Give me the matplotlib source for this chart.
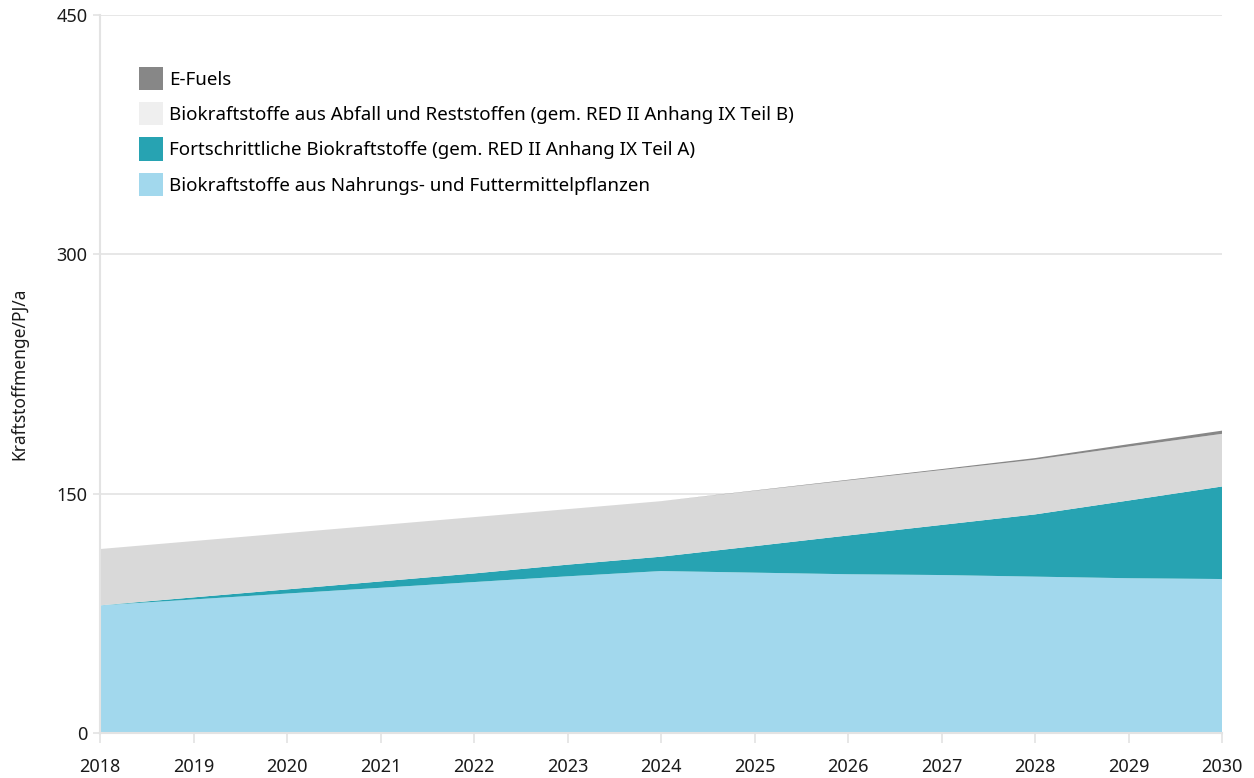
import numpy as np
import matplotlib.pyplot as plt
from matplotlib.patches import Patch

plt.rcParams['font.family'] = ['Noto Sans', 'DejaVu Sans']

years = list(range(2018, 2031))
nahrung = [80, 83.7, 87.4, 91, 94.6, 98.2, 101.5, 100.5, 99.5, 99, 98, 97, 96.5]
fortschrittlich = [0, 1.3, 2.6, 4, 5.4, 7.3, 9, 16.6, 24.3, 31.4, 39, 48.7, 58]
abfall = [35.3, 35.3, 35.3, 35.3, 35.3, 34.8, 34.8, 34.7, 34.5, 34.4, 34.3, 33.8, 33]
efuels = [0, 0, 0, 0, 0, 0, 0, 0.2, 0.4, 0.6, 1.0, 1.5, 2.0]

labels = ['E-Fuels',
          'Biokraftstoffe aus Abfall und Reststoffen (gem. RED II Anhang IX Teil B)',
          'Fortschrittliche Biokraftstoffe (gem. RED II Anhang IX Teil A)',
          'Biokraftstoffe aus Nahrungs- und Futtermittelpflanzen']

c_nahrung = '#a2d8ed'
c_fort = '#27a3b2'
c_abfall = '#d9d9d9'
c_abfall_leg = '#efefef'
c_efuel = '#878787'
grid_c = '#e3e3e3'

fig = plt.figure(figsize=(12.54, 7.78), dpi=100)
ax = fig.add_axes([100/1254, 1-733/778, 1122/1254, 718/778])

ax.stackplot(years, nahrung, fortschrittlich, abfall, efuels,
             colors=[c_nahrung, c_fort, c_abfall, c_efuel], linewidth=0, zorder=2)

ax.set_xlim(2018, 2030)
ax.set_ylim(0, 450)
ax.set_xticks(years)
ax.set_yticks([0, 150, 300, 450])
ax.yaxis.grid(True, color=grid_c, linewidth=1.2, zorder=0)
ax.set_axisbelow(True)

for s in ['top', 'right']:
    ax.spines[s].set_visible(False)
for s in ['left', 'bottom']:
    ax.spines[s].set_color(grid_c)
    ax.spines[s].set_linewidth(1.5)

ax.tick_params(axis='x', length=7, width=1.2, color=grid_c, pad=11,
               labelsize=13, labelcolor='#1a1a1a')
ax.tick_params(axis='y', length=5, width=1.2, color=grid_c, pad=4,
               labelsize=13, labelcolor='#1a1a1a')
ax.set_ylabel('Kraftstoffmenge/PJ/a', fontsize=12.5, color='#1a1a1a', labelpad=20)

handles = [Patch(facecolor=c_efuel), Patch(facecolor=c_abfall_leg),
           Patch(facecolor=c_fort), Patch(facecolor=c_nahrung)]
ax.legend(handles, labels, loc='upper left', bbox_to_anchor=(0.0348, 0.928),
          frameon=False, fontsize=13.5, handlelength=1.28, handleheight=1.54,
          labelspacing=0.64, handletextpad=0.32, borderpad=0, borderaxespad=0)

fig.savefig('out.png', dpi=100)
